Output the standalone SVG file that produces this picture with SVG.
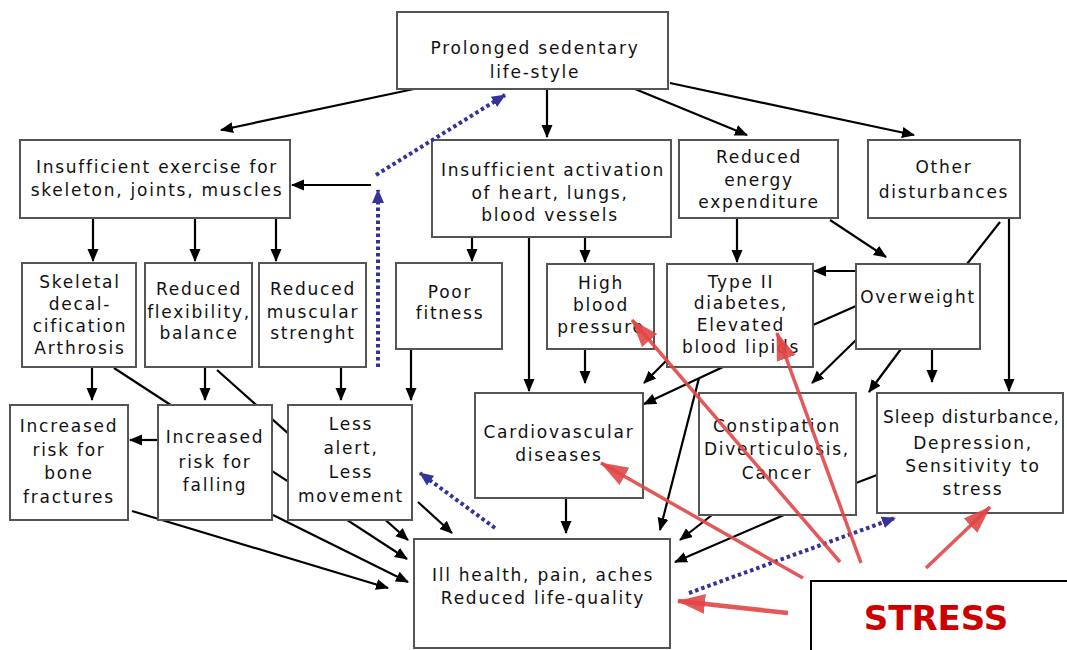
<svg xmlns="http://www.w3.org/2000/svg" width="1067" height="650" viewBox="0 0 1067 650">
<defs>
<style>
.box{fill:#fff;stroke:#555;stroke-width:2}
.t{font-family:"DejaVu Sans","Verdana",sans-serif;font-size:17px;letter-spacing:1.75px;fill:#111;text-anchor:middle}
.c{stroke:#000;stroke-width:2.2;fill:none}
.ca{stroke:#000;stroke-width:2.2;fill:none;marker-end:url(#ah)}
.blue{stroke:#33339a;stroke-width:4;stroke-dasharray:3.5 3;fill:none;marker-end:url(#bh)}
.red{stroke:#e04646;stroke-width:3.5;fill:none;stroke-opacity:0.9;marker-end:url(#rh)}
</style>
<marker id="ah" markerUnits="userSpaceOnUse" markerWidth="13" markerHeight="13" refX="12" refY="6.5" orient="auto" viewBox="0 0 13 13"><path d="M0,1 L13,6.5 L0,12 z" fill="#000"/></marker>
<marker id="bh" markerUnits="userSpaceOnUse" markerWidth="14" markerHeight="14" refX="13" refY="7" orient="auto" viewBox="0 0 14 14"><path d="M0,1 L14,7 L0,13 z" fill="#33339a"/></marker>
<marker id="rh" markerUnits="userSpaceOnUse" markerWidth="28" markerHeight="24" refX="27" refY="12" orient="auto" viewBox="0 0 28 24"><path d="M0,2 L28,12 L0,22 z" fill="#e04646" fill-opacity="0.9"/></marker>
</defs>
<rect width="1067" height="650" fill="#fff"/>
<g id="connectors">
<path class="ca" d="M414,89 L221,130"/>
<path class="ca" d="M547,89 L547,137"/>
<path class="ca" d="M635,89 L747,135"/>
<path class="ca" d="M670,83 L914,135"/>
<path class="ca" d="M371,185 L292,185"/>
<path class="ca" d="M93,218 L93,261"/>
<path class="ca" d="M195,218 L195,261"/>
<path class="ca" d="M276,218 L276,261"/>
<path class="ca" d="M472,237 L472,261"/>
<path class="ca" d="M529,237 L529,391"/>
<path class="ca" d="M585,237 L585,262"/>
<path class="ca" d="M737,218 L737,262"/>
<path class="ca" d="M830,220 L886,257"/>
<path class="c" d="M1000,222 L967,264"/>
<path class="ca" d="M1009,218 L1009,391"/>
<path class="ca" d="M855,271 L814,271"/>
<path class="c" d="M856,306 L813,325"/>
<path class="ca" d="M856,340 L812,383"/>
<path class="ca" d="M901,349 L869,392"/>
<path class="ca" d="M932,349 L932,382"/>
<path class="ca" d="M585,349 L585,383"/>
<path class="ca" d="M667,360 L644,383"/>
<path class="ca" d="M723,367 L644,404"/>
<path class="ca" d="M699,378 L660,530"/>
<path class="ca" d="M566,498 L566,533"/>
<path class="ca" d="M712,515 L680,540"/>
<path class="ca" d="M784,515 L675,562"/>
<path class="c" d="M877,475 L856,483"/>
<path class="ca" d="M92,367 L92,400"/>
<path class="ca" d="M205,367 L205,400"/>
<path class="ca" d="M341,367 L341,400"/>
<path class="ca" d="M411,349 L411,400"/>
<path class="ca" d="M114,368 L407,559"/>
<path class="ca" d="M217,370 L408,540"/>
<path class="ca" d="M132,511 L388,588"/>
<path class="ca" d="M273,515 L408,582"/>
<path class="ca" d="M418,502 L452,533"/>
<path class="ca" d="M158,440 L130,440"/>
</g>
<g id="n-prolonged"><rect class="box" x="397" y="12" width="271" height="77"/><text class="t" x="535" y="54">Prolonged sedentary</text><text class="t" x="535" y="78">life-style</text></g>
<g id="n-exercise"><rect class="box" x="20" y="140" width="270" height="78"/><text class="t" x="157" y="173">Insufficient exercise for</text><text class="t" x="157" y="196">skeleton, joints, muscles</text></g>
<g id="n-activation"><rect class="box" x="432" y="140" width="239" height="97"/><text class="t" x="553" y="176">Insufficient activation</text><text class="t" x="550" y="199">of heart, lungs,</text><text class="t" x="550" y="221">blood vessels</text></g>
<g id="n-energy"><rect class="box" x="679" y="140" width="159" height="78"/><text class="t" x="759" y="163">Reduced</text><text class="t" x="759" y="186">energy</text><text class="t" x="759" y="208">expenditure</text></g>
<g id="n-other"><rect class="box" x="868" y="140" width="152" height="78"/><text class="t" x="944" y="173">Other</text><text class="t" x="944" y="198">disturbances</text></g>
<g id="n-skeletal"><rect class="box" x="22" y="263" width="114" height="104"/><text class="t" x="80" y="288">Skeletal</text><text class="t" x="80" y="310">decal-</text><text class="t" x="80" y="332">cification</text><text class="t" x="80" y="354">Arthrosis</text></g>
<g id="n-flexibility"><rect class="box" x="145" y="263" width="107" height="104"/><text class="t" x="199" y="295">Reduced</text><text class="t" x="199" y="318">flexibility,</text><text class="t" x="199" y="339">balance</text></g>
<g id="n-muscular"><rect class="box" x="259" y="263" width="107" height="104"/><text class="t" x="313" y="295">Reduced</text><text class="t" x="313" y="318">muscular</text><text class="t" x="313" y="339">strenght</text></g>
<g id="n-fitness"><rect class="box" x="396" y="263" width="106" height="86"/><text class="t" x="450" y="298">Poor</text><text class="t" x="450" y="319">fitness</text></g>
<g id="n-bp"><rect class="box" x="547" y="264" width="107" height="85"/><text class="t" x="601" y="289">High</text><text class="t" x="601" y="311">blood</text><text class="t" x="601" y="333">pressure</text></g>
<g id="n-diabetes"><rect class="box" x="667" y="264" width="146" height="103"/><text class="t" x="741" y="288">Type II</text><text class="t" x="741" y="309">diabetes,</text><text class="t" x="741" y="331">Elevated</text><text class="t" x="741" y="353">blood lipids</text></g>
<g id="n-overweight"><rect class="box" x="856" y="264" width="124" height="85"/><text class="t" x="918" y="303">Overweight</text></g>
<g id="n-bone"><rect class="box" x="10" y="405" width="118" height="115"/><text class="t" x="69" y="432">Increased</text><text class="t" x="69" y="456">risk for</text><text class="t" x="69" y="479">bone</text><text class="t" x="69" y="503">fractures</text></g>
<g id="n-falling"><rect class="box" x="158" y="405" width="114" height="115"/><text class="t" x="215" y="443">Increased</text><text class="t" x="215" y="468">risk for</text><text class="t" x="215" y="491">falling</text></g>
<g id="n-alert"><rect class="box" x="288" y="405" width="124" height="115"/><text class="t" x="351" y="430">Less</text><text class="t" x="351" y="454">alert,</text><text class="t" x="351" y="478">Less</text><text class="t" x="351" y="502">movement</text></g>
<g id="n-cardio"><rect class="box" x="475" y="393" width="168" height="105"/><text class="t" x="559" y="438">Cardiovascular</text><text class="t" x="559" y="461">diseases</text></g>
<g id="n-constipation"><rect class="box" x="699" y="393" width="157" height="122"/><text class="t" x="777" y="432">Constipation</text><text class="t" x="777" y="455">Diverticulosis,</text><text class="t" x="777" y="479">Cancer</text></g>
<g id="n-sleep"><rect class="box" x="877" y="393" width="186" height="120"/><text class="t" x="971" y="423" style="letter-spacing:0" textLength="176" lengthAdjust="spacing">Sleep disturbance,</text><text class="t" x="973" y="449">Depression,</text><text class="t" x="973" y="472">Sensitivity to</text><text class="t" x="973" y="495">stress</text></g>
<g id="n-illhealth"><rect class="box" x="414" y="539" width="256" height="109"/><text class="t" x="543" y="581">Ill health, pain, aches</text><text class="t" x="543" y="604">Reduced life-quality</text></g>
<g id="n-stress"><rect x="811" y="581" width="262" height="80" fill="#fff" stroke="#000" stroke-width="2"/><text x="936" y="630" font-family="DejaVu Sans, Verdana, sans-serif" font-size="34" font-weight="bold" fill="#cc0000" text-anchor="middle">STRESS</text></g>
<g id="stress-connectors">
<path class="blue" d="M495,528 L420,473"/>
<path class="blue" d="M378,367 L378,190"/>
<path class="blue" d="M376,175 L505,95"/>
<path class="blue" d="M689,593 L895,518"/>
<path class="red" style="stroke-width:4.5" d="M788,613 L678,601"/>
<path class="red" d="M803,578 L601,463"/>
<path class="red" d="M840,562 L632,320"/>
<path class="red" d="M861,563 L777,333"/>
<path class="red" d="M926,568 L990,507"/>
</g>
</svg>
